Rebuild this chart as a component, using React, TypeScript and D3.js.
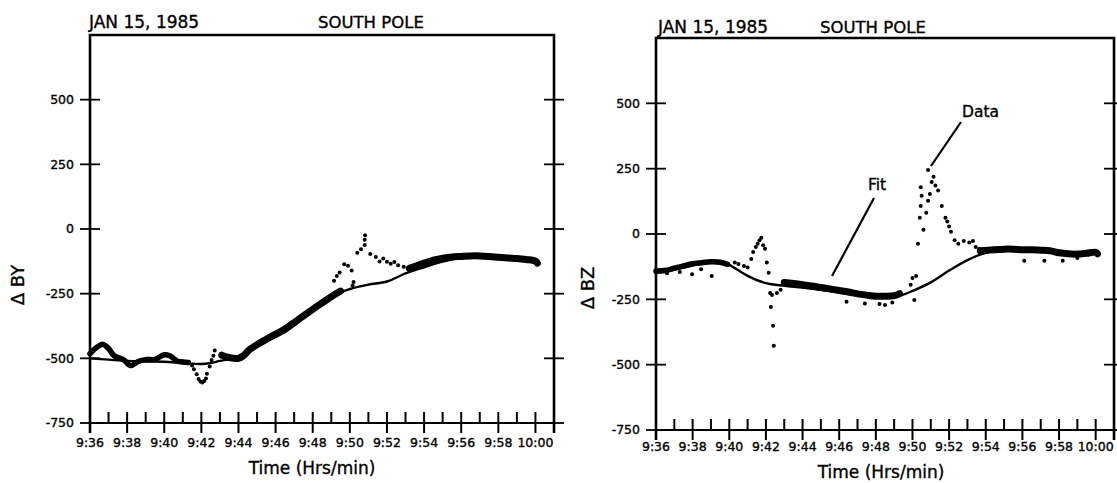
import React from "react";
import * as d3 from "d3";

// minutes after 9:36
const minuteTicks = d3.range(0, 25);
const timeLabels = ["9:36", "9:38", "9:40", "9:42", "9:44", "9:46", "9:48", "9:50", "9:52", "9:54", "9:56", "9:58", "10:00"];
const yTicks = [500, 250, 0, -250, -500, -750];
const yLabels = ["500", "250", "0", "-250", "-500", "-750"];

// ---- Delta BY (left) ----
const fitBY: [number, number][] = [
  [0, -500], [1, -505], [2, -510], [3, -512], [4, -513], [5, -518], [6, -522], [6.5, -518],
  [7, -510], [7.7, -500], [8.6, -470], [9.5, -435], [10.6, -394], [11.5, -345], [12.5, -292],
  [13.4, -248], [14, -232], [15, -215], [16, -203], [17, -172], [18, -148], [19, -126],
  [20, -110], [21, -104], [22, -106], [23, -113], [24, -126], [24.2, -130],
];
const bandBY1: [number, number][] = [
  [0, -482], [0.4, -455], [0.7, -446], [1.0, -462], [1.3, -490], [1.8, -505], [2.2, -528],
  [2.6, -512], [3.0, -505], [3.5, -504], [4.0, -486], [4.3, -490], [4.7, -510], [5.0, -514], [5.3, -516],
];
const bandBY2: [number, number][] = [
  [7.1, -488], [7.5, -497], [8.0, -500], [8.3, -488], [8.6, -466], [9.5, -426], [10.5, -386],
  [11.5, -336], [12.5, -286], [13.0, -262], [13.5, -240],
];
const bandBY3: [number, number][] = [
  [17.2, -152], [17.6, -142], [18.0, -132], [18.5, -120], [19, -113], [19.5, -108], [20, -106],
  [20.5, -104], [21, -104], [21.5, -106], [22, -109], [22.5, -112], [23, -114], [23.5, -118],
  [24.0, -124], [24.1, -132],
];
const dotsBY: [number, number][] = [
  [5.5, -528], [5.6, -542], [5.75, -562], [5.85, -580], [5.95, -590], [6.05, -593], [6.15, -588],
  [6.25, -578], [6.3, -560], [6.45, -532], [6.55, -506], [6.65, -490], [6.72, -470],
  [13.15, -200], [13.3, -182], [13.45, -168], [13.7, -136], [13.9, -142], [14.1, -160],
  [14.2, -205], [14.15, -218], [14.4, -92], [14.6, -78], [14.8, -62], [14.8, -42], [14.82, -24],
  [15.1, -97], [15.4, -108], [15.6, -126], [15.8, -114], [16.0, -127], [16.2, -134], [16.4, -128],
  [16.6, -140], [16.9, -146],
];

// ---- Delta BZ (right) ----
const fitBZ: [number, number][] = [
  [0, -148], [1, -136], [2, -121], [3, -106], [3.5, -104], [4, -118], [5, -160], [6, -188],
  [7, -198], [8, -205], [9, -214], [10, -224], [11, -234], [12, -240], [13, -239], [13.5, -232],
  [14, -218], [15, -185], [16, -140], [17, -100], [18, -72], [19, -60], [20, -62], [21, -66],
  [22, -70], [23, -73], [24, -76],
];
const bandBZ1: [number, number][] = [
  [0, -142], [0.5, -140], [1.0, -131], [1.5, -122], [2.0, -114], [2.5, -110], [3.0, -106],
  [3.5, -108], [3.9, -116],
];
const bandBZ2: [number, number][] = [
  [7.0, -186], [7.5, -189], [8.0, -194], [8.5, -199], [9.0, -205], [9.5, -210], [10.0, -216],
  [10.5, -222], [11.0, -229], [11.5, -234], [12.0, -238], [12.5, -238], [13.0, -236], [13.3, -228],
];
const bandBZ3: [number, number][] = [
  [17.7, -64], [18.5, -60], [19, -58], [19.5, -58], [20, -60], [20.5, -60], [21, -62],
  [21.5, -64], [22, -72], [22.5, -76], [23, -77], [23.5, -74], [24, -70], [24.1, -76],
];
const dotsBZ: [number, number][] = [
  [1.97, -154], [2.46, -135], [3.04, -161], [0.6, -150], [1.3, -145],
  [4.3, -109], [4.5, -115], [4.8, -122], [5.0, -128], [5.2, -96], [5.3, -69], [5.45, -50],
  [5.55, -37], [5.65, -24], [5.75, -14], [5.85, -43], [5.95, -56], [6.05, -109], [6.15, -148],
  [6.23, -226], [6.33, -233], [6.27, -279], [6.39, -351], [6.43, -428], [6.6, -226], [6.8, -213],
  [10.4, -259], [11.4, -266], [12.2, -268], [12.5, -272], [12.9, -262],
  [13.9, -194], [14.0, -168], [14.1, -253], [14.2, -161], [14.3, -37], [14.4, 62], [14.45, 107],
  [14.5, 146], [14.45, 179], [14.6, 16], [14.75, 81], [14.85, 127], [14.95, 153], [14.85, 245],
  [15.05, 199], [15.15, 219], [15.25, 186], [15.4, 166], [15.6, 107], [15.8, 62], [15.9, 48],
  [16.0, 29], [16.1, 9], [16.3, -24], [16.5, -37], [16.8, -27], [17.1, -33], [17.3, -27],
  [17.45, -50], [17.65, -56], [20.1, -102], [21.2, -102], [22.2, -102], [23.0, -92],
];

const FONT = "'DejaVu Sans', sans-serif";
// a thin outline to mimic the heavy lettering of the scanned figure
const ink = { fill: "#000", stroke: "#000", strokeWidth: 0.35 };

type PanelProps = {
  x0: number; x1: number; yTop: number; yBottom: number;
  fit: [number, number][]; bands: [number, number][][]; dots: [number, number][];
  yTitle: string; yTitleX: number; yTitleY: number;
  titleX: number; titleY: number; poleX: number;
  xTitleX: number; xTitleY: number; labelY: number;
};

const Panel = (p: PanelProps) => {
  const x = d3.scaleLinear().domain([0, 25]).range([p.x0, p.x1]);
  const y = d3.scaleLinear().domain([-750, 750]).range([p.yBottom, p.yTop]);
  const line = d3.line<[number, number]>().x(d => x(d[0])).y(d => y(d[1])).curve(d3.curveCatmullRom);
  const xa = x(0), xb = x(25), yb = y(-750), yt = y(750);
  return (
    <g>
      <text x={p.titleX} y={p.titleY} fontSize={17} fontFamily={FONT} {...ink}>JAN 15, 1985</text>
      <text x={p.poleX} y={p.titleY} fontSize={16.5} fontFamily={FONT} {...ink}>SOUTH POLE</text>
      {/* frame */}
      <path d={`M${xa},${yb + 10}V${yt}H${xb}V${yb + 10}`} fill="none" stroke="#000" strokeWidth={2.6} />
      <line x1={xa} x2={xb} y1={yb} y2={yb} stroke="#000" strokeWidth={1.8} />
      {yTicks.map((v, i) => (
        <g key={v}>
          <line x1={xa - 10} x2={xa + 10} y1={y(v)} y2={y(v)} stroke="#000" strokeWidth={1.8} />
          <line x1={xb - 10} x2={xb + 10} y1={y(v)} y2={y(v)} stroke="#000" strokeWidth={1.8} />
          <text x={xa - 16} y={y(v)} dy="0.35em" textAnchor="end" fontSize={12.5} fontFamily={FONT} {...ink}>{yLabels[i]}</text>
        </g>
      ))}
      {minuteTicks.map(m => (
        <line key={m} x1={x(m)} x2={x(m)} y1={yb - 11} y2={m % 2 === 0 ? yb + 10 : yb}
          stroke="#000" strokeWidth={2} />
      ))}
      {timeLabels.map((t, i) => (
        <text key={t} x={x(i * 2)} y={p.labelY} textAnchor="middle" fontSize={12.5} fontFamily={FONT} {...ink}>{t}</text>
      ))}
      <text x={p.xTitleX} y={p.xTitleY} textAnchor="middle" fontSize={17} fontFamily={FONT} {...ink}>Time (Hrs/min)</text>
      <text transform={`translate(${p.yTitleX},${p.yTitleY}) rotate(-90)`} textAnchor="middle" fontSize={18} fontFamily={FONT} {...ink}>{p.yTitle}</text>
      {/* fit */}
      <path d={line(p.fit) || ""} fill="none" stroke="#000" strokeWidth={2.4} />
      {/* dense data */}
      {p.bands.map((b, i) => (
        <path key={i} d={line(b) || ""} fill="none" stroke="#000" strokeWidth={i === 0 ? 5.5 : 7} strokeLinecap="round" strokeLinejoin="round" />
      ))}
      {p.dots.map((d, i) => (
        <circle key={i} cx={x(d[0])} cy={y(d[1])} r={2} fill="#000" />
      ))}
    </g>
  );
};

export default function App() {
  return (
    <svg width={1117} height={483} style={{ position: "fixed", left: 0, top: 0, background: "#fff" }}>
      <rect width={1117} height={483} fill="#fff" />
      <Panel x0={90} x1={554} yTop={35} yBottom={423} fit={fitBY} bands={[bandBY1, bandBY2, bandBY3]} dots={dotsBY}
        yTitle="Δ BY" yTitleX={24} yTitleY={285} titleX={89} titleY={28} poleX={318}
        xTitleX={312} xTitleY={474} labelY={447} />
      <Panel x0={656} x1={1114} yTop={38} yBottom={430} fit={fitBZ} bands={[bandBZ1, bandBZ2, bandBZ3]} dots={dotsBZ}
        yTitle="Δ BZ" yTitleX={594} yTitleY={288} titleX={658} titleY={33} poleX={820}
        xTitleX={881} xTitleY={478} labelY={451} />
      <text x={868} y={190} fontSize={15.5} fontFamily={FONT} {...ink}>Fit</text>
      <line x1={874} y1={198} x2={832} y2={276} stroke="#000" strokeWidth={2.2} />
      <text x={962} y={117} fontSize={15.5} fontFamily={FONT} {...ink}>Data</text>
      <line x1={961} y1={122} x2={931} y2={166} stroke="#000" strokeWidth={2.2} />
    </svg>
  );
}
